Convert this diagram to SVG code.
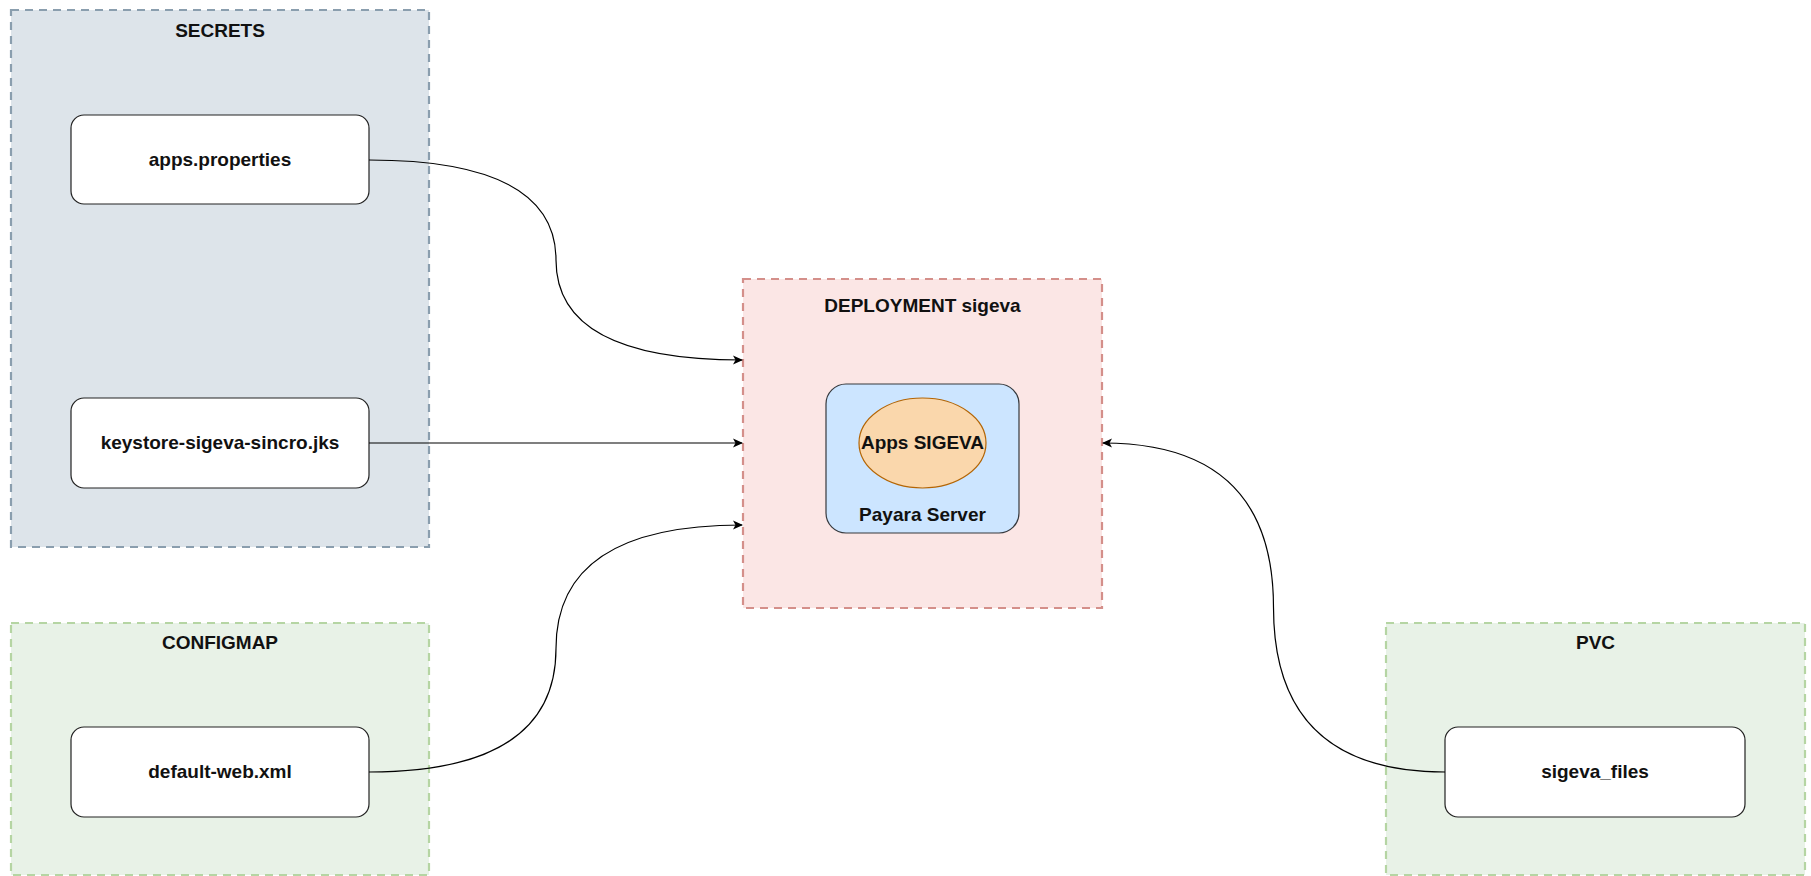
<svg xmlns="http://www.w3.org/2000/svg" width="1811" height="876" viewBox="0 0 1811 876">
<defs>
<marker id="arr" viewBox="0 0 10 10" refX="9" refY="5" markerWidth="10" markerHeight="10" markerUnits="userSpaceOnUse" orient="auto">
<path d="M0,0.5 L10,5 L0,9.5 L2.5,5 Z" fill="#000"/>
</marker>
<style>
text{font-family:"Liberation Sans",Arial,sans-serif;font-weight:bold;font-size:19px;fill:#111;text-anchor:middle}
.grp{stroke-width:2.2;stroke-dasharray:8 6}
.secrets{fill:#dde4ea;stroke:#8a9eae}
.green{fill:#e8f2e7;stroke:#b5d5a3}
.deploy{fill:#fbe6e5;stroke:#d48f8a}
.file{fill:#fff;stroke:#222;stroke-width:1.2}
.conn path{fill:none;stroke:#000;stroke-width:1.2;marker-end:url(#arr)}
</style>
</defs>
<rect width="1811" height="876" fill="#fff"/>
<g id="secrets">
<rect class="grp secrets" x="11" y="10" width="418" height="537"/>
<text x="220" y="37">SECRETS</text>
</g>
<g id="configmap">
<rect class="grp green" x="11" y="623" width="418" height="252"/>
<text x="220" y="649">CONFIGMAP</text>
</g>
<g id="pvc">
<rect class="grp green" x="1386" y="623" width="419" height="252"/>
<text x="1595.5" y="649">PVC</text>
</g>
<g id="deployment">
<rect class="grp deploy" x="743" y="279" width="359" height="329"/>
<text x="922.5" y="312">DEPLOYMENT sigeva</text>
</g>
<g id="payara">
<rect x="826" y="384" width="193" height="149" rx="20" ry="20" fill="#cce5ff" stroke="#36393d" stroke-width="1.2"/>
<text x="922.5" y="521">Payara Server</text>
</g>
<g id="apps-sigeva">
<ellipse cx="922.5" cy="443" rx="63.5" ry="45" fill="#fad7ac" stroke="#b46504" stroke-width="1.2"/>
<text x="922.5" y="449">Apps SIGEVA</text>
</g>
<g id="apps-properties">
<rect class="file" x="71" y="115" width="298" height="89" rx="13" ry="13"/>
<text x="220" y="166">apps.properties</text>
</g>
<g id="keystore">
<rect class="file" x="71" y="398" width="298" height="90" rx="13" ry="13"/>
<text x="220" y="449">keystore-sigeva-sincro.jks</text>
</g>
<g id="default-web">
<rect class="file" x="71" y="727" width="298" height="90" rx="13" ry="13"/>
<text x="220" y="778">default-web.xml</text>
</g>
<g id="sigeva-files">
<rect class="file" x="1445" y="727" width="300" height="90" rx="13" ry="13"/>
<text x="1595" y="778">sigeva_files</text>
</g>
<g id="connectors" class="conn">
<path d="M369,160 Q556,160 556,260 Q556,360 742,360"/>
<path d="M369,443 L742,443"/>
<path d="M369,772 Q556,772 556,648.5 Q556,525 742,525"/>
<path d="M1445,772 Q1273.5,772 1273.5,607.5 Q1273.5,443 1103,443"/>
</g>
</svg>
